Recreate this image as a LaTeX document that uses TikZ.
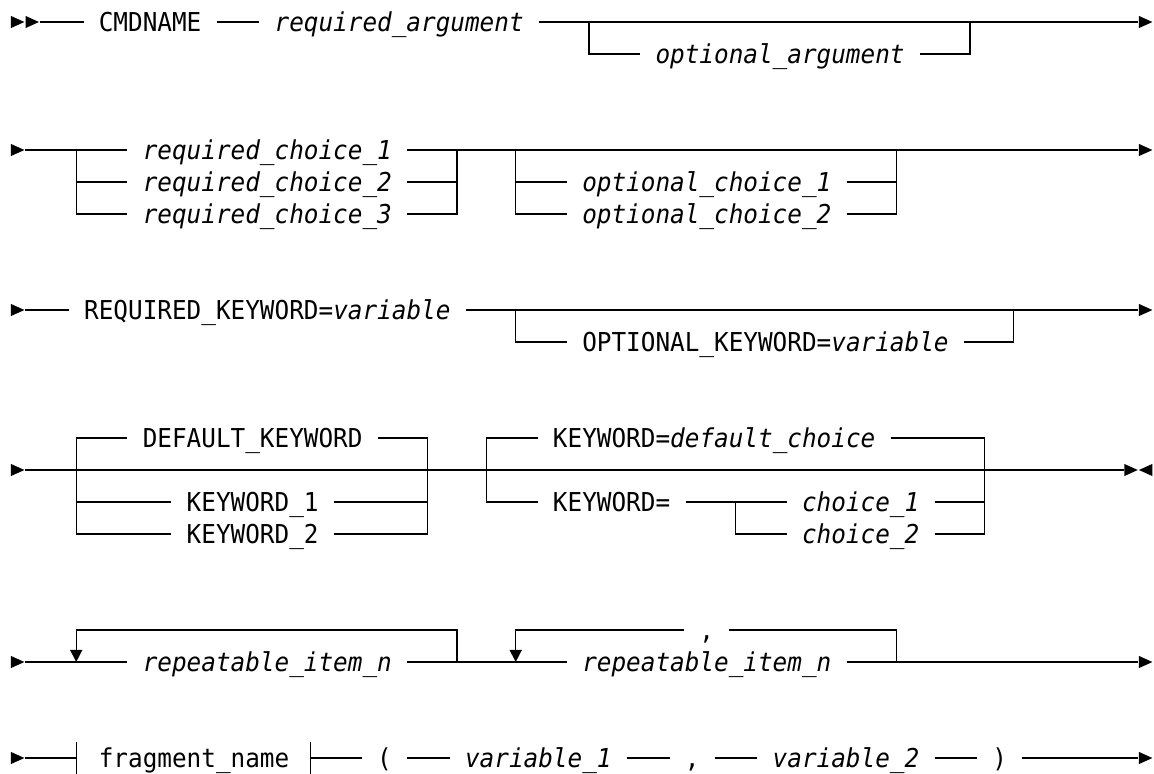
\documentclass[tikz,border=0pt]{standalone}
\usepackage{fontspec}
\setmonofont{DejaVu Sans Mono}[FakeStretch=0.936]
\usetikzlibrary{arrows.meta}

% filled triangles standing in one character cell
\newcommand{\tipR}[2]{\fill (#1+0.04,#2-0.19) -- (#1+0.96,#2) -- (#1+0.04,#2+0.19) -- cycle;}
\newcommand{\tipL}[2]{\fill (#1+0.96,#2-0.19) -- (#1+0.04,#2) -- (#1+0.96,#2+0.19) -- cycle;}

\begin{document}
\begin{tikzpicture}[x=14.65pt, y=-32pt, line width=1.3pt,
    kw/.style={font=\ttfamily\fontsize{26}{26}\selectfont, inner xsep=14.65pt, inner ysep=0pt,
               text height=24pt, text depth=5pt, anchor=west},
    var/.style={kw, font=\ttfamily\itshape\fontsize{26}{26}\selectfont},
    backarr/.style={-{Triangle[length=12pt,width=12pt]}}]
    \useasboundingbox (-0.703,-0.6875) rectangle (78.07,23.5);

    % Row 1: command name, required and optional argument
    \tipR{0}{0}\tipR{1}{0}
    \coordinate (s1) at (2,0);
    \node[kw] (cmd) at (5,0) {CMDNAME};
    \node[var] (reqarg) at (17,0) {required\_argument};
    \node[var] (optarg) at (43,1) {optional\_argument};
    \coordinate (b1l) at (39.5,0);
    \coordinate (b1r) at (65.5,0);
    \coordinate (e1) at (77,0);
    \draw (s1) -- (cmd.west);
    \draw (cmd.east) -- (reqarg.west);
    \draw (reqarg.east) -- (e1);
    \draw (b1l) |- (optarg.west);
    \draw (optarg.east) -| (b1r);
    \tipR{77}{0}

    % Row 2: required choices, then optional choices
    \tipR{0}{4}
    \coordinate (s2) at (1,4);
    \node[var] (rc1) at (8,4) {required\_choice\_1};
    \node[var] (rc2) at (8,5) {required\_choice\_2};
    \node[var] (rc3) at (8,6) {required\_choice\_3};
    \node[var] (oc1) at (38,5) {optional\_choice\_1};
    \node[var] (oc2) at (38,6) {optional\_choice\_2};
    \coordinate (b2l) at (4.5,4);
    \coordinate (b2r) at (30.5,4);
    \coordinate (b2m) at (34.5,4);
    \coordinate (b2n) at (60.5,4);
    \coordinate (e2) at (77,4);
    \draw (s2) -- (rc1.west);
    \draw (rc1.east) -- (e2);
    \draw (b2l) |- (rc2.west);
    \draw (b2l) |- (rc3.west);
    \draw (rc2.east) -| (b2r);
    \draw (rc3.east) -| (b2r);
    \draw (b2m) |- (oc1.west);
    \draw (b2m) |- (oc2.west);
    \draw (oc1.east) -| (b2n);
    \draw (oc2.east) -| (b2n);
    \tipR{77}{4}

    % Row 3: keywords with a value
    \tipR{0}{9}
    \coordinate (s3) at (1,9);
    \node[kw] (reqkw) at (4,9) {REQUIRED\_KEYWORD=\textit{variable}};
    \node[kw] (optkw) at (38,10) {OPTIONAL\_KEYWORD=\textit{variable}};
    \coordinate (b3l) at (34.5,9);
    \coordinate (b3r) at (68.5,9);
    \coordinate (e3) at (77,9);
    \draw (s3) -- (reqkw.west);
    \draw (reqkw.east) -- (e3);
    \draw (b3l) |- (optkw.west);
    \draw (optkw.east) -| (b3r);
    \tipR{77}{9}

    % Row 4: defaults above the main line, end of statement
    \tipR{0}{14}
    \coordinate (s4) at (1,14);
    \coordinate (e4) at (76,14);
    \draw (s4) -- (e4);
    \node[kw] (defkw) at (8,13) {DEFAULT\_KEYWORD};
    \node[kw] (kw1) at (11,15) {KEYWORD\_1};
    \node[kw] (kw2) at (11,16) {KEYWORD\_2};
    \coordinate (b4l) at (4.5,14);
    \coordinate (b4r) at (28.5,14);
    \draw (b4l) |- (defkw.west);
    \draw (defkw.east) -| (b4r);
    \draw (b4l) |- (kw1.west);
    \draw (b4l) |- (kw2.west);
    \draw (kw1.east) -| (b4r);
    \draw (kw2.east) -| (b4r);
    \node[kw] (kwdef) at (36,13) {KEYWORD=\textit{default\_choice}};
    \node[kw] (kweq) at (36,15) {KEYWORD=};
    \node[var] (ch1) at (53,15) {choice\_1};
    \node[var] (ch2) at (53,16) {choice\_2};
    \coordinate (b4m) at (32.5,14);
    \coordinate (b4n) at (66.5,14);
    \coordinate (b4c) at (49.5,15);
    \draw (b4m) |- (kwdef.west);
    \draw (kwdef.east) -| (b4n);
    \draw (b4m) |- (kweq.west);
    \draw (kweq.east) -- (ch1.west);
    \draw (b4c) |- (ch2.west);
    \draw (ch1.east) -| (b4n);
    \draw (ch2.east) -| (b4n);
    \tipR{76}{14}\tipL{77}{14}

    % Row 5: repeatable items, plain and with separator
    \tipR{0}{20}
    \coordinate (s5) at (1,20);
    \node[var] (rep1) at (8,20) {repeatable\_item\_n};
    \node[var] (rep2) at (38,20) {repeatable\_item\_n};
    \node[kw] (sep) at (46,19) {,};
    \coordinate (b5l) at (4.5,20);
    \coordinate (b5r) at (30.5,20);
    \coordinate (b5m) at (34.5,20);
    \coordinate (b5n) at (60.5,20);
    \coordinate (e5) at (77,20);
    \draw (s5) -- (rep1.west);
    \draw (rep1.east) -- (rep2.west);
    \draw (rep2.east) -- (e5);
    \draw[backarr] (b5r) -- ++(0,-1) -| (b5l);
    \draw (b5n) |- (sep.east);
    \draw[backarr] (sep.west) -| (b5m);
    \tipR{77}{20}

    % Row 6: fragment reference and parameter list
    \tipR{0}{23}
    \coordinate (s6) at (1,23);
    \coordinate (f6l) at (4.5,23);
    \coordinate (f6r) at (20.5,23);
    \node[kw] (frag) at (5,23) {fragment\_name};
    \draw (f6l |- 0,22.5) -- (f6l |- 0,23.5);
    \draw (f6r |- 0,22.5) -- (f6r |- 0,23.5);
    \node[kw] (lpar) at (24,23) {(};
    \node[var] (var1) at (30,23) {variable\_1};
    \node[kw] (comma) at (45,23) {,};
    \node[var] (var2) at (51,23) {variable\_2};
    \node[kw] (rpar) at (66,23) {)};
    \coordinate (e6) at (77,23);
    \draw (s6) -- (f6l);
    \draw (f6r) -- (lpar.west);
    \draw (lpar.east) -- (var1.west);
    \draw (var1.east) -- (comma.west);
    \draw (comma.east) -- (var2.west);
    \draw (var2.east) -- (rpar.west);
    \draw (rpar.east) -- (e6);
    \tipR{77}{23}
\end{tikzpicture}
\end{document}
